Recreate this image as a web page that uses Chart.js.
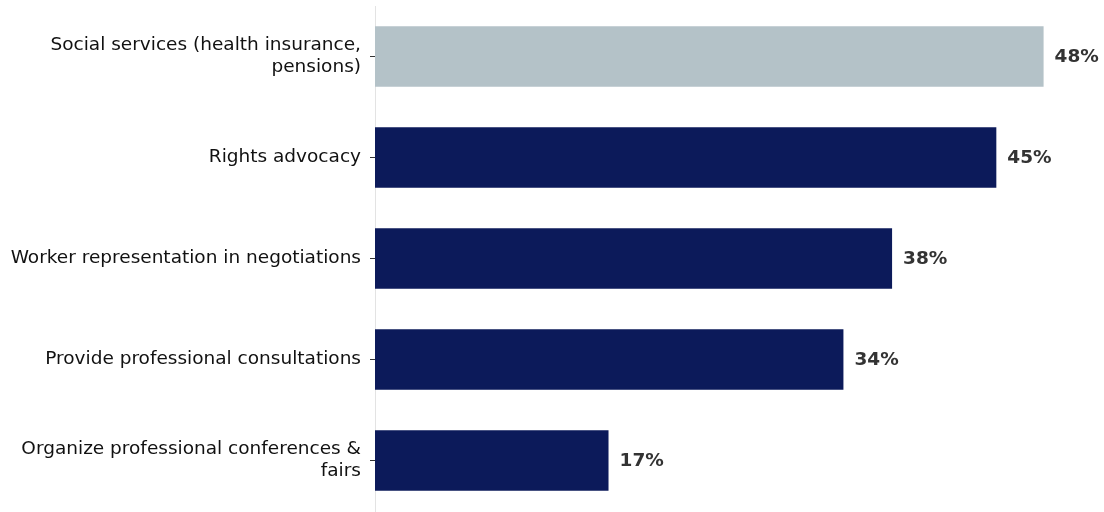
<!DOCTYPE html>
<html>
<head>
<meta charset="utf-8">
<script src="https://cdn.jsdelivr.net/npm/chart.js@4"></script>
<style>
  html, body { margin: 0; padding: 0; background: #fff; }
  #wrap { width: 1104px; height: 512px; }
</style>
</head>
<body>
<div id="wrap"><canvas id="myChart" width="1104" height="512"></canvas></div>
<script>
const categories = [
  ["Social services (health insurance,", "pensions)"],
  "Rights advocacy",
  "Worker representation in negotiations",
  "Provide professional consultations",
  ["Organize professional conferences &", "fairs"],
];
const shares = [48.1, 44.7, 37.2, 33.7, 16.8];
const shareLabels = ["48%", "45%", "38%", "34%", "17%"];
const barColors = ["#b4c2c8", "#0c1a5a", "#0c1a5a", "#0c1a5a", "#0c1a5a"];

// draws the % text at the end of each bar
const endLabels = {
  id: "endLabels",
  afterDatasetsDraw(chart) {
    const ctx = chart.ctx;
    const meta = chart.getDatasetMeta(0);
    ctx.save();
    ctx.font = "bold 18.5px 'DejaVu Sans'";
    ctx.fillStyle = "#333333";
    ctx.textAlign = "left";
    ctx.textBaseline = "middle";
    meta.data.forEach((bar, i) => {
      ctx.fillText(shareLabels[i], bar.x + 11, bar.y + 1);
    });
    ctx.restore();
  },
};

let myCt = document.getElementById("myChart");
let myChart = new Chart(myCt, {
  type: "bar",
  data: {
    labels: categories,
    datasets: [
      {
        data: shares,
        backgroundColor: barColors,
        borderWidth: 0,
        categoryPercentage: 1,
        barPercentage: 0.6,
      },
    ],
  },
  plugins: [endLabels],
  options: {
    indexAxis: "y",
    responsive: false,
    animation: false,
    layout: { padding: { top: 6, bottom: 1, left: 0, right: 34 } },
    plugins: {
      legend: { display: false },
      tooltip: { enabled: false },
    },
    scales: {
      x: {
        display: false,
        min: 0,
        max: 50,
      },
      y: {
        afterFit: (s) => {
          s.width = 375;
          s.paddingTop = 0;
          s.paddingBottom = 0;
        },
        border: { display: true, color: "#e3e3e3", width: 1 },
        grid: {
          offset: false,
          drawOnChartArea: false,
          drawTicks: true,
          tickLength: 5,
          color: "#333333",
        },
        ticks: {
          color: "#111111",
          font: { family: "'DejaVu Sans'", size: 18.5, lineHeight: 1.2 },
          padding: 9,
        },
      },
    },
  },
});
</script>
</body>
</html>
